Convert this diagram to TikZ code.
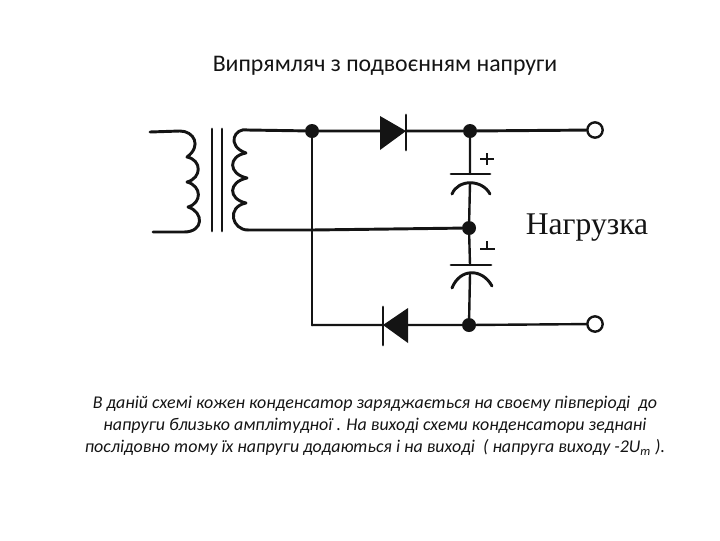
\documentclass[tikz,border=0pt]{standalone}
\usepackage{fontspec}
\setmainfont{Carlito}
\newfontfamily\loadfont{Liberation Serif}
\definecolor{ink}{gray}{0.08}
\tikzset{
	wire/.style={line width=2.2pt,color=ink,line cap=round,line join=round},
	thinwire/.style={line width=1.8pt,color=ink,line cap=round},
	dotnode/.style={circle,fill=ink,inner sep=0pt,minimum size=10.5pt},
	termnode/.style={circle,draw=ink,fill=white,line width=1.8pt,inner sep=0pt,minimum size=11.5pt},
	titletext/.style={font=\fontsize{17.85}{21}\selectfont,text=ink},
	bodytext/.style={font=\fontsize{13.45}{16.6}\selectfont\itshape,text=ink,align=center},
	loadtext/.style={font=\loadfont\fontsize{23.7}{26}\selectfont,text=ink,inner sep=0pt}
}
\begin{document}
\begin{tikzpicture}[x=0.75pt,y=-0.75pt]
	\useasboundingbox (0,0) rectangle (720,540);
	\node[titletext] (title) at (385,66) {Випрямляч з подвоєнням напруги};
	% dots and terminals
	\node[dotnode] (dottl) at (312,131) {};
	\node[dotnode] (dottop) at (470,131) {};
	\node[dotnode] (dotmid) at (469,228) {};
	\node[dotnode] (dotbot) at (469,325) {};
	\node[termnode] (termtop) at (595,130) {};
	\node[termnode] (termbot) at (595,324) {};
	\coordinate (corner) at (312,325);
	\coordinate (junction) at (312,230);
	\coordinate (primtop) at (150,132);
	\coordinate (primbot) at (153,232);
	\coordinate (sectop) at (248,130);
	\coordinate (secbot) at (248,230);
	% transformer
	\draw[wire] (primtop)--(180,131) ..controls (194,131) and (202,146) .. (187,157)
		..controls (202,160) and (202,178) .. (187,182)
		..controls (202,186) and (202,203) .. (188,207)
		..controls (204,212) and (204,232) .. (184,232)--(primbot);
	\draw[wire] (212,129)--(212,231) (222,129)--(222,231);
	\draw[wire] (sectop)..controls (234,127) and (226,146) .. (246,153)
		..controls (228,156) and (228,174) .. (247,178)
		..controls (228,182) and (228,199) .. (246,203)
		..controls (226,207) and (232,230) .. (secbot);
	\draw[wire] (sectop)--(dottl);
	\draw[wire] (secbot)--(junction)--(dotmid);
	\draw[wire] (dottl)--(junction)--(corner);
	% top diode
	\coordinate (dtopin) at (380,131);
	\coordinate (dtopout) at (406,131);
	\fill[ink] (380,116)--(380,150)--(dtopout)--cycle;
	\draw[wire] (406,115)--(406,150);
	\draw[wire] (dottl)--(dtopin) (dtopout)--(dottop)--(termtop);
	% bottom diode
	\coordinate (dbotin) at (408,325);
	\coordinate (dbotout) at (383,325);
	\fill[ink] (408,308)--(408,343)--(dbotout)--cycle;
	\draw[wire] (383,307)--(383,345);
	\draw[thinwire] (corner)--(dbotout) (dbotin)--(dotbot)--(termbot);
	% capacitors
	\coordinate (capa) at (470,174);
	\coordinate (capb) at (470,183);
	\coordinate (capc) at (470,265);
	\coordinate (capd) at (470,274);
	\draw[thinwire] (dottop)--(capa) (capb)--(dotmid) (dotmid)--(capc) (capd)--(dotbot);
	\draw[wire] (451,174)--(490,174);
	\draw[wire] (452,194)..controls (458,179) and (482,179) .. (490,194);
	\draw[wire] (451,265)--(491,265);
	\draw[wire] (452,288)..controls (460,268) and (482,268) .. (492,286);
	% polarity marks
	\draw[line width=1pt,ink] (480,159)--(494,159) (487,153)--(487,165);
	\draw[line width=1pt,ink] (480,249)--(495,249) (487,241)--(487,249);
	\node[loadtext] (load) at (587,228) {Нагрузка};
	\node[bodytext] (caption) at (375,426) {В даній схемі кожен конденсатор заряджається на своєму півперіоді~ до\\
		напруги близько амплітудної . На виході схеми конденсатори зеднані\\
		послідовно тому їх напруги додаються і на виході~ ( напруга виходу -2U\textsubscript{m} ).};
\end{tikzpicture}
\end{document}
